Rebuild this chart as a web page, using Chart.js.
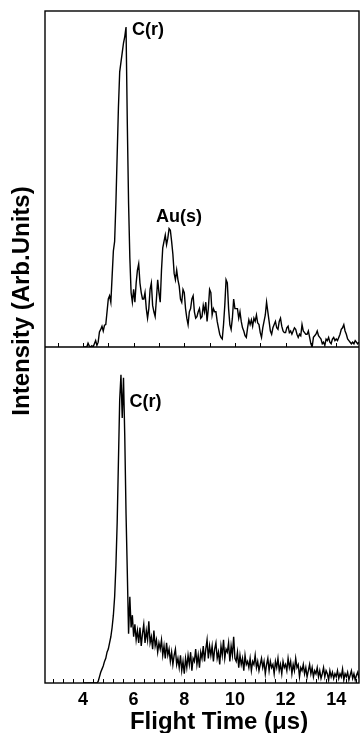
<!DOCTYPE html>
<html>
<head>
<meta charset="utf-8">
<script src="https://cdn.jsdelivr.net/npm/chart.js@4.4.1/dist/chart.umd.min.js"></script>
<style>
  html, body { margin: 0; padding: 0; background: #fff; }
  #wrap { position: relative; width: 360px; height: 733px; }
</style>
</head>
<body>
<div id="wrap"><canvas id="tof" width="360" height="733"></canvas></div>
<script>
(() => {
  'use strict';

  // digitizer: first channel and channel width (µs)
  const T_START = 4.0;
  const T_STEP = 0.05;

  const xTickLabels = [4, 6, 8, 10, 12, 14];
  const upperMinorTicks = [3, 4, 5, 6, 7, 8, 9, 10, 11, 12, 13, 14];
  const lowerMinorTicks = [2.8, 3.2, 3.6, 4, 4.4, 4.8, 5.2, 5.6, 6, 6.4, 6.8, 7.2, 7.6, 8, 8.4, 8.8,
    9.2, 9.6, 10, 10.4, 10.8, 11.2, 11.6, 12, 12.4, 12.8, 13.2, 13.6, 14, 14.4, 14.8];

  // upper trace: C(r) fragment plus the Au(s) bump
  const upperSignal = [
    0, 0, 0, 0, 1.2, 0.3, 0, 0.4, 0, 1.0, 2.0, 0.5, 1.5, 4.7, 5.5, 6.5, 5.0, 6.8, 7, 11,
    15, 16, 14, 22, 30, 33, 45, 60, 75, 86, 89, 92, 95, 97, 100, 70, 45, 28, 17, 14,
    18, 14, 20, 24, 26, 20, 17, 15, 15, 17, 12, 9, 12, 18, 20, 13, 11, 9.5, 15, 21,
    17, 14, 24, 31, 33, 35, 32, 34, 37, 36.5, 33, 29, 23, 21, 24, 21, 19, 15, 14, 18,
    17, 12, 9, 7, 11, 12, 15, 16, 11, 9, 9.5, 11, 12, 9, 9.5, 13, 11, 14, 8, 12,
    18, 17, 10, 12, 11, 11, 8, 6, 4, 3, 2.5, 7, 13, 21, 20, 12, 7, 5.5, 9, 15,
    12, 12, 12, 9, 11, 8, 6, 5, 3.5, 3, 6, 8.5, 7, 8.5, 6.5, 9, 8, 10, 7.5, 7,
    4.5, 3, 6, 8, 10, 14, 11, 8, 5, 4, 6, 7, 8, 6, 5.5, 8, 9, 6.5, 5, 4.5,
    4.5, 6, 6.5, 4.5, 5, 4, 5, 6, 5.5, 4, 3, 4, 3.5, 7, 5, 4.5, 4, 4, 5, 3,
    1, 0, 3, 3.5, 4, 5, 3.5, 3, 2.5, 1, 1.5, 0.5, 2.5, 2, 3, 1.5, 1, 2.5, 3, 2,
    2.5, 2, 3, 4, 5.5, 6, 7, 5, 4, 2.5, 2, 1.5, 1, 1.5, 1, 2, 1.5, 1, 1.5
  ];

  // lower trace: C(r) only, long noisy tail
  const lowerSignal = [
    0, 0, 0, 0, 0, 0, 0, 0, 0, 0, 0, 0, 0.5, 2, 3.5, 4.5, 5.5, 7, 8, 10,
    11, 13, 15, 18, 22, 28, 38, 52, 72, 92, 100, 86, 99, 80, 55, 36, 16, 28, 18, 22,
    15, 19, 14, 17, 13, 18, 12, 16, 19, 13, 17, 14, 20, 13, 15, 11, 17, 12, 14, 10,
    13, 11, 14, 9, 12, 8, 13, 9, 11, 7, 10, 6, 9, 11, 6, 8, 5, 9, 4, 7,
    3, 8, 5, 9, 6, 10, 4, 8, 7, 11, 6, 9, 5, 10, 8, 12, 7, 11, 14, 8,
    12, 9, 12, 7, 11, 13, 8, 10, 6, 12, 9, 14, 8, 11, 10, 13, 7, 12, 9, 15,
    8, 7, 10, 5, 9, 6, 8, 4, 9, 6, 7, 5, 8, 4, 7, 6, 9, 5, 7, 4,
    6, 8, 5, 7, 3, 6, 8, 4, 7, 5, 6, 3, 7, 5, 8, 4, 6, 3, 7, 5,
    6, 4, 8, 5, 7, 3, 6, 4, 8, 5, 6, 2, 5, 4, 6, 3, 5, 2, 4, 6,
    3, 5, 2, 4, 3, 5, 2, 4, 1.5, 3, 5, 2, 4, 3, 1, 4, 2, 3.5, 1.5, 3,
    2, 4, 1.5, 3, 2, 4.5, 1, 3, 2, 3.5, 1, 2.5, 4, 1.5, 3, 1, 2.5, 3.5, 1.5
  ];

  const peakLabels = [
    { text: 'C(r)', series: 'upper', time: 5.70, dx: 6, dy: 3 },
    { text: 'Au(s)', series: 'upper', time: 7.40, dx: -13, dy: -12 },
    { text: 'C(r)', series: 'lower', time: 5.50, dx: 8.5, dy: 27 }
  ];

  const FONT = "'Liberation Sans', Arial, Helvetica, sans-serif";
  const INK = '#000';

  const flightTimes = upperSignal.map((_, i) => +(T_START + i * T_STEP).toFixed(2));
  const toPoints = (values) => values.map((v, i) => ({ x: flightTimes[i], y: v }));

  const series = {
    upper: { values: upperSignal, axis: 'yUpper' },
    lower: { values: lowerSignal, axis: 'yLower' }
  };

  /**
   * Frame, panel divider and inward tick marks
   */
  const framePlugin = {
    id: 'frame',
    afterDatasetsDraw(chart) {
      const { ctx, chartArea } = chart;
      const x = chart.scales.x;
      const mid = chart.scales.yLower.top;
      ctx.save();
      ctx.strokeStyle = INK;
      ctx.lineWidth = 1.4;
      ctx.strokeRect(chartArea.left, chartArea.top, chartArea.right - chartArea.left, chartArea.bottom - chartArea.top);
      ctx.beginPath();
      ctx.moveTo(chartArea.left, mid);
      ctx.lineTo(chartArea.right, mid);
      ctx.stroke();

      ctx.lineWidth = 1;
      ctx.beginPath();
      upperMinorTicks.forEach((t) => {
        const px = Math.round(x.getPixelForValue(t)) + 0.5;
        ctx.moveTo(px, mid);
        ctx.lineTo(px, mid - 4);
      });
      lowerMinorTicks.forEach((t) => {
        const px = Math.round(x.getPixelForValue(t)) + 0.5;
        ctx.moveTo(px, chartArea.bottom);
        ctx.lineTo(px, chartArea.bottom - 4);
      });
      ctx.stroke();
      ctx.restore();
    }
  };

  /**
   * Peak names and axis titles
   */
  const textPlugin = {
    id: 'texts',
    afterDraw(chart) {
      const { ctx, chartArea } = chart;
      const x = chart.scales.x;
      ctx.save();
      ctx.fillStyle = INK;
      ctx.textBaseline = 'middle';

      ctx.font = `bold 18px ${FONT}`;
      ctx.textAlign = 'left';
      peakLabels.forEach((lbl) => {
        const s = series[lbl.series];
        const idx = Math.round((lbl.time - T_START) / T_STEP);
        const px = x.getPixelForValue(flightTimes[idx]);
        const py = chart.scales[s.axis].getPixelForValue(s.values[idx]);
        ctx.fillText(lbl.text, px + lbl.dx, py + lbl.dy);
      });

      ctx.font = `bold 24px ${FONT}`;
      ctx.textAlign = 'center';
      ctx.fillText('Flight Time (\u03BCs)', (chartArea.left + chartArea.right) / 2 + 17, chartArea.bottom + 39);

      ctx.translate(22, (chartArea.top + chartArea.bottom) / 2 - 46);
      ctx.rotate(-Math.PI / 2);
      ctx.fillText('Intensity (Arb.Units)', 0, 0);
      ctx.restore();
    }
  };

  const hiddenY = (max) => ({
    type: 'linear',
    position: 'left',
    stack: 'panels',
    min: 0,
    max: max,
    ticks: { display: false },
    grid: { display: false },
    border: { display: false },
    afterFit: (scale) => { scale.width = 0; }
  });

  const lineStyle = {
    borderColor: INK,
    borderWidth: 1.4,
    pointRadius: 0,
    tension: 0,
    fill: false
  };

  new Chart(document.getElementById('tof'), {
    type: 'line',
    data: {
      datasets: [
        Object.assign({ data: toPoints(upperSignal), yAxisID: 'yUpper' }, lineStyle),
        Object.assign({ data: toPoints(lowerSignal), yAxisID: 'yLower' }, lineStyle)
      ]
    },
    options: {
      responsive: false,
      animation: false,
      devicePixelRatio: 1,
      layout: { padding: { left: 45, top: 11, right: 1, bottom: 0 } },
      plugins: {
        legend: { display: false },
        tooltip: { enabled: false }
      },
      scales: {
        x: {
          type: 'linear',
          min: 2.5,
          max: 14.9,
          grid: { display: false },
          border: { display: false },
          ticks: {
            color: INK,
            padding: -2,
            maxRotation: 0,
            font: { family: FONT, size: 18, weight: 'bold' }
          },
          afterBuildTicks: (scale) => {
            scale.ticks = xTickLabels.map((value) => ({ value }));
          },
          afterFit: (scale) => { scale.height = 50; }
        },
        yLower: hiddenY(109),
        yUpper: hiddenY(105)
      }
    },
    plugins: [framePlugin, textPlugin]
  });
})();
</script>
</body>
</html>
